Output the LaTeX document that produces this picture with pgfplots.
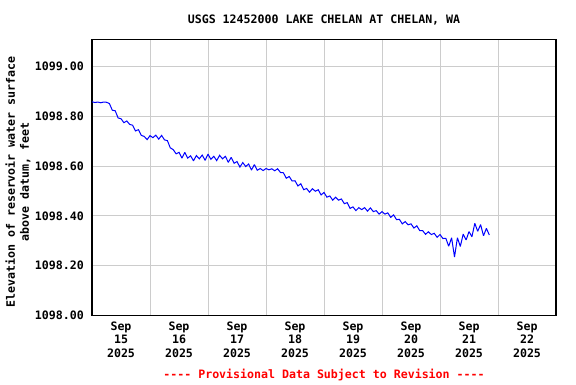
\documentclass[border=0pt]{standalone}
\usepackage{fontspec}
\setmainfont{DejaVu Sans Mono}
\usepackage{pgfplots}
\pgfplotsset{compat=1.18}
\newcommand{\cf}{\bfseries\fontsize{11.6bp}{13.4bp}\selectfont}
\begin{document}
\begin{tikzpicture}[x=1bp,y=1bp]
\useasboundingbox (0,0) rectangle (576,384);
\fill[white] (0,0) rectangle (576,384);
\begin{axis}[
  at={(92bp,68.5bp)}, anchor=south west,
  scale only axis, width=464bp, height=276bp,
  xmin=15, xmax=23, ymin=1098, ymax=1099.108,
  axis line style={line width=1.2bp},
  xtick={15.5,16.5,17.5,18.5,19.5,20.5,21.5,22.5},
  xticklabels={{Sep\\15\\2025},{Sep\\16\\2025},{Sep\\17\\2025},{Sep\\18\\2025},{Sep\\19\\2025},{Sep\\20\\2025},{Sep\\21\\2025},{Sep\\22\\2025}},
  minor xtick={16,17,18,19,20,21,22},
  xminorgrids, xmajorgrids=false,
  ytick={1098,1098.2,1098.4,1098.6,1098.8,1099},
  yticklabels={1098.00,1098.20,1098.40,1098.60,1098.80,1099.00},
  ymajorgrids,
  major tick length=0pt, minor tick length=0pt,
  grid style={color=black!20, line width=0.9bp},
  minor grid style={color=black!20, line width=0.9bp},
  tick label style={font=\cf},
  xticklabel style={align=center, anchor=north, inner sep=0pt, yshift=-6bp},
  yticklabel style={anchor=east, inner sep=0pt, xshift=-8bp},
]
\addplot[color=blue, line width=1bp, mark=none, line join=miter, miter limit=2] coordinates {
(15.00,1098.858) (15.05,1098.855) (15.10,1098.857) (15.15,1098.854) (15.20,1098.857) (15.25,1098.856)
(15.30,1098.851) (15.35,1098.824) (15.40,1098.822) (15.45,1098.793) (15.50,1098.790) (15.55,1098.774)
(15.60,1098.781) (15.65,1098.767) (15.70,1098.764) (15.75,1098.741) (15.80,1098.746) (15.85,1098.723)
(15.90,1098.719) (15.95,1098.706) (16.00,1098.722) (16.05,1098.714) (16.10,1098.724) (16.15,1098.708)
(16.20,1098.723) (16.25,1098.705) (16.30,1098.702) (16.35,1098.673) (16.40,1098.666) (16.45,1098.649)
(16.50,1098.655) (16.55,1098.632) (16.60,1098.655) (16.65,1098.632) (16.70,1098.641) (16.75,1098.621)
(16.80,1098.642) (16.85,1098.629) (16.90,1098.644) (16.95,1098.623) (17.00,1098.648) (17.05,1098.627)
(17.10,1098.639) (17.15,1098.622) (17.20,1098.643) (17.25,1098.629) (17.30,1098.639) (17.35,1098.615)
(17.40,1098.635) (17.45,1098.611) (17.50,1098.618) (17.55,1098.596) (17.60,1098.614) (17.65,1098.598)
(17.70,1098.608) (17.75,1098.584) (17.80,1098.606) (17.85,1098.583) (17.90,1098.590) (17.95,1098.582)
(18.00,1098.590) (18.05,1098.585) (18.10,1098.589) (18.15,1098.581) (18.20,1098.589) (18.25,1098.574)
(18.30,1098.573) (18.35,1098.551) (18.40,1098.558) (18.45,1098.540) (18.50,1098.541) (18.55,1098.520)
(18.60,1098.529) (18.65,1098.505) (18.70,1098.510) (18.75,1098.495) (18.80,1098.509) (18.85,1098.499)
(18.90,1098.505) (18.95,1098.484) (19.00,1098.494) (19.05,1098.475) (19.10,1098.480) (19.15,1098.463)
(19.20,1098.475) (19.25,1098.463) (19.30,1098.468) (19.35,1098.449) (19.40,1098.453) (19.45,1098.430)
(19.50,1098.436) (19.55,1098.421) (19.60,1098.433) (19.65,1098.425) (19.70,1098.433) (19.75,1098.419)
(19.80,1098.432) (19.85,1098.417) (19.90,1098.421) (19.95,1098.407) (20.00,1098.417) (20.05,1098.407)
(20.10,1098.412) (20.15,1098.394) (20.20,1098.404) (20.25,1098.385) (20.30,1098.386) (20.35,1098.368)
(20.40,1098.377) (20.45,1098.364) (20.50,1098.368) (20.55,1098.351) (20.60,1098.360) (20.65,1098.341)
(20.70,1098.341) (20.75,1098.326) (20.80,1098.336) (20.85,1098.325) (20.90,1098.330) (20.95,1098.314)
(21.00,1098.325) (21.05,1098.309) (21.10,1098.310) (21.15,1098.278) (21.20,1098.312) (21.25,1098.235)
(21.30,1098.312) (21.35,1098.277) (21.40,1098.327) (21.45,1098.303) (21.50,1098.337) (21.55,1098.316)
(21.60,1098.370) (21.65,1098.338) (21.70,1098.365) (21.75,1098.320) (21.80,1098.350) (21.85,1098.323)
};
\end{axis}
\node[font=\cf] at (324,364) {USGS 12452000 LAKE CHELAN AT CHELAN, WA};
\node[font=\cf, text=red] at (324,9) {-{}-{}-{}- Provisional Data Subject to Revision -{}-{}-{}-};
\node[font=\bfseries\fontsize{11.6bp}{14bp}\selectfont, rotate=90, align=center] at (18,202) {Elevation of reservoir water surface\\above datum, feet};
\end{tikzpicture}
\end{document}
